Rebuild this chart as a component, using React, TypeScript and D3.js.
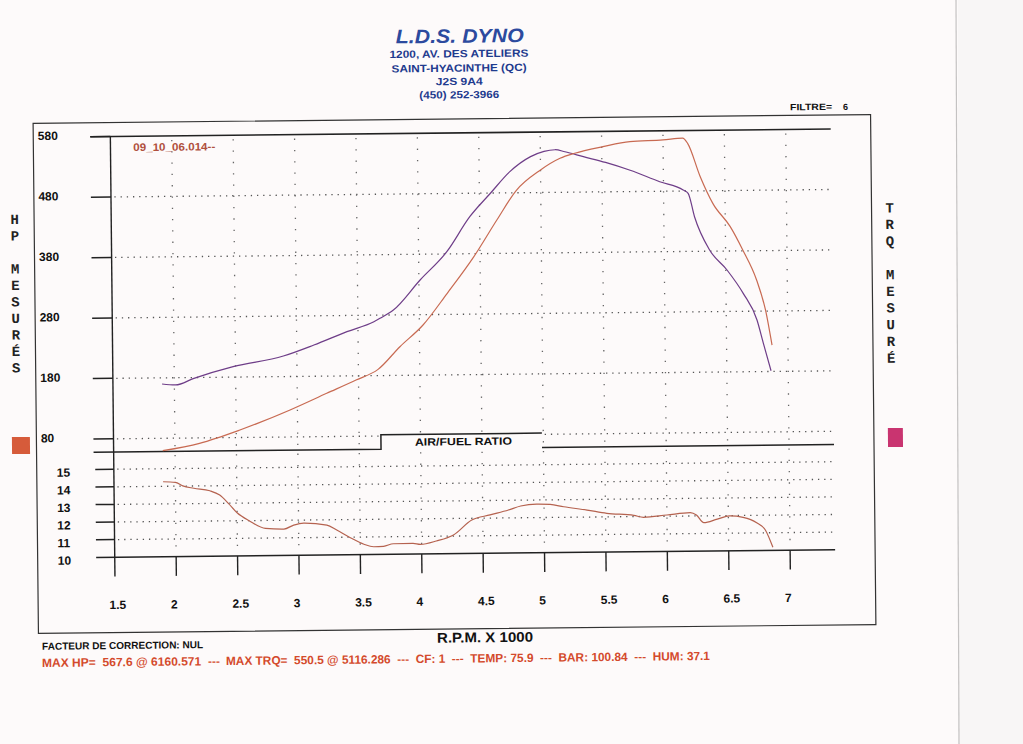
import React from 'react';
import * as d3 from 'd3';

// ---------- data ----------
const rpmTicks = [1.5, 2, 2.5, 3, 3.5, 4, 4.5, 5, 5.5, 6, 6.5, 7];
const rpmTickLabels = ['1.5', '2', '2.5', '3', '3.5', '4', '4.5', '5', '5.5', '6', '6.5', '7'];
const rpmGrid = [2, 2.5, 3, 3.5, 4, 4.5, 5, 5.5, 6, 6.5, 7];
const hpTicks = [580, 480, 380, 280, 180, 80];
const hpGrid = [480, 380, 280, 180, 80];
const afrTicks = [15, 14, 13, 12, 11, 10];
const afrGrid = [15, 14, 13, 12, 11];

const trqRpm = [1.90, 2.01, 2.16, 2.48, 2.89, 3.14, 3.41, 3.63, 3.68, 3.79, 4.01, 4.23, 4.42, 4.59, 4.75, 4.92, 5.03, 5.12, 5.20, 5.35, 5.53, 5.73, 5.97, 6.16, 6.20, 6.25, 6.37, 6.51, 6.64, 6.75, 6.80, 6.86];
const trqVal = [169.8, 168.0, 178.7, 197.3, 214.0, 231.7, 253.2, 269.2, 274.7, 288.2, 337.4, 383.7, 441.2, 479.6, 515.0, 539.5, 548.0, 550.5, 547.0, 538.5, 528.6, 515.2, 495.8, 481.8, 476.1, 437.3, 382.0, 348.6, 309.7, 265.4, 226.7, 181.2];

const hpRpm = [1.90, 2.20, 2.53, 2.94, 3.24, 3.48, 3.66, 3.84, 4.03, 4.23, 4.45, 4.64, 4.80, 5.00, 5.16, 5.28, 5.51, 5.73, 6.00, 6.16, 6.20, 6.30, 6.40, 6.54, 6.64, 6.75, 6.82, 6.87];
const hpVal = [59.5, 71.1, 92.4, 124.7, 151.6, 173.1, 190.3, 227.4, 262.9, 314.9, 375.1, 435.3, 483.7, 517.3, 536.2, 544.3, 554.7, 562.5, 564.8, 567.6, 558.8, 503.4, 459.1, 420.2, 381.4, 331.6, 281.8, 223.7];

const afrRpm = [1.90, 2.00, 2.06, 2.15, 2.28, 2.36, 2.43, 2.50, 2.60, 2.73, 2.88, 2.96, 3.04, 3.23, 3.31, 3.42, 3.53, 3.61, 3.69, 3.77, 3.93, 3.99, 4.12, 4.26, 4.41, 4.56, 4.71, 4.81, 4.94, 5.05, 5.16, 5.35, 5.51, 5.73, 5.81, 6.00, 6.19, 6.24, 6.30, 6.41, 6.51, 6.62, 6.73, 6.80, 6.86];
const afrVal = [14.26, 14.22, 14.01, 13.87, 13.72, 13.47, 12.99, 12.45, 11.98, 11.55, 11.50, 11.72, 11.83, 11.70, 11.41, 10.97, 10.59, 10.44, 10.46, 10.60, 10.61, 10.55, 10.73, 11.06, 11.90, 12.18, 12.45, 12.67, 12.77, 12.74, 12.60, 12.40, 12.20, 12.07, 11.95, 12.07, 12.19, 12.05, 11.61, 11.81, 11.98, 11.89, 11.58, 11.16, 10.17];

const headerTitle = 'L.D.S. DYNO';
const headerLines = ['1200, AV. DES ATELIERS', 'SAINT-HYACINTHE (QC)', 'J2S 9A4', '(450) 252-3966'];
const runLabel = '09_10_06.014--';
const leftTitle = 'HP MESURÉS';
const rightTitle = 'TRQ MESURÉ';
const xTitle = 'R.P.M. X 1000';
const afrTitle = 'AIR/FUEL RATIO';
const filterLabel = 'FILTRE=';
const filterValue = '6';
const footer1 = 'FACTEUR DE CORRECTION: NUL';
const footer2a = 'MAX HP=  567.6 @ 6160.571  ---';
const footer2b = 'MAX TRQ=  550.5 @ 5116.286  ---  CF: 1  ---  TEMP: 75.9  ---  BAR: 100.84  ---  HUM: 37.1';

const SANS = "'Liberation Sans', Arial, sans-serif";
const MONO = "'Liberation Mono', 'DejaVu Sans Mono', monospace";

export default function App() {
  const x = d3.scaleLinear().domain([2, 7]).range([174, 788]);
  const yHp = d3.scaleLinear().domain([80, 580]).range([435.3, 133]);
  const yAfr = d3.scaleLinear().domain([10, 15]).range([553.7, 465.7]);

  const topLine = d3
    .line<[number, number]>()
    .x((d) => x(d[0]))
    .y((d) => yHp(d[1]))
    .curve(d3.curveMonotoneX);
  const afrLine = d3
    .line<[number, number]>()
    .x((d) => x(d[0]))
    .y((d) => yAfr(d[1]))
    .curve(d3.curveMonotoneX);

  const trqPath = topLine(d3.zip(trqRpm, trqVal) as [number, number][]) || '';
  const hpPath = topLine(d3.zip(hpRpm, hpVal) as [number, number][]) || '';
  const afrPath = afrLine(d3.zip(afrRpm, afrVal) as [number, number][]) || '';

  const x0 = x(1.5);
  const xEnd = 833;
  const sepY = 448.5;
  const axisColor = '#222';
  const dotColor = '#555';

  return (
    <svg
      width={1023}
      height={744}
      viewBox="0 0 1023 744"
      style={{ position: 'fixed', left: 0, top: 0, background: '#fdfafa' }}
    >
      <rect x={0} y={0} width={1023} height={744} fill="#fdfafa" />
      <rect x={958} y={0} width={65} height={744} fill="#f8f6f6" />
      <line x1={956} y1={0} x2={959} y2={744} stroke="#c4c2c2" strokeWidth={1.2} />

      <g transform="rotate(-0.6 450 350)">
        {/* header */}
        <text x={463} y={42.8} textAnchor="middle" fontFamily={SANS} fontWeight="bold" fontStyle="italic"
          fontSize={19.5} fill="#2c4a9e" textLength={128} lengthAdjust="spacingAndGlyphs">{headerTitle}</text>
        {headerLines.map((t, i) => (
          <text key={t} x={462} y={[57.4, 71.8, 85.1, 98.4][i]} textAnchor="middle" fontFamily={SANS}
            fontWeight="bold" fontSize={10.5} fill="#1f3b8e" textLength={[139, 135, 47, 80][i]}
            lengthAdjust="spacingAndGlyphs">{t}</text>
        ))}
        <text x={792.5} y={113.8} fontFamily={SANS} fontWeight="bold" fontSize={9} fill="#111"
          textLength={42} lengthAdjust="spacingAndGlyphs">{filterLabel}</text>
        <text x={845.5} y={114.1} fontFamily={SANS} fontWeight="bold" fontSize={9} fill="#111">{filterValue}</text>

        {/* frame */}
        <rect x={35.5} y={119} width={837.5} height={510} fill="none" stroke="#333" strokeWidth={1.2} />

        {/* side titles */}
        {leftTitle.split('').map((c, i) =>
          c === ' ' ? null : (
            <text key={'l' + i} x={16} y={214.5 + i * 16.5 + 5} textAnchor="middle" fontFamily={MONO}
              fontWeight="bold" fontSize={14} fill="#222">{c}</text>
          )
        )}
        {rightTitle.split('').map((c, i) =>
          c === ' ' ? null : (
            <text key={'r' + i} x={891} y={212 + i * 16.7 + 5} textAnchor="middle" fontFamily={MONO}
              fontWeight="bold" fontSize={14} fill="#222">{c}</text>
          )
        )}
        <rect x={11} y={432.5} width={18} height={17} fill="#d65b3a" />
        <rect x={887} y={432.7} width={15} height={19} fill="#c93470" />

        {/* top panel grid */}
        {hpGrid.map((v) => (
          <line key={'hg' + v} x1={116} x2={xEnd} y1={yHp(v)} y2={yHp(v)} stroke={dotColor}
            strokeWidth={1.3} strokeDasharray="1.3 4.9" />
        ))}
        {rpmGrid.map((r) => (
          <line key={'vg' + r} x1={x(r)} x2={x(r)} y1={137} y2={446} stroke="#666"
            strokeWidth={1.3} strokeDasharray="1.3 10" />
        ))}
        {/* AFR panel grid */}
        {afrGrid.map((v) => (
          <line key={'ag' + v} x1={116} x2={xEnd} y1={yAfr(v)} y2={yAfr(v)} stroke={dotColor}
            strokeWidth={1.3} strokeDasharray="1.3 4.9" />
        ))}
        {rpmGrid.map((r) => (
          <line key={'avg' + r} x1={x(r)} x2={x(r)} y1={452} y2={552} stroke="#666"
            strokeWidth={1.3} strokeDasharray="1.3 10" />
        ))}

        {/* axes */}
        <line x1={92.5} x2={xEnd} y1={yHp(580)} y2={yHp(580)} stroke={axisColor} strokeWidth={1.6} />
        <line x1={x0} x2={x0} y1={yHp(580)} y2={sepY} stroke={axisColor} strokeWidth={1.4} />
        {hpTicks.map((v) => (
          <line key={'ht' + v} x1={92.5} x2={x0} y1={yHp(v)} y2={yHp(v)} stroke={axisColor} strokeWidth={1.5} />
        ))}
        {hpTicks.map((v) => (
          <text key={'hl' + v} x={40} y={yHp(v) + 2.8} fontFamily={SANS} fontWeight="bold" fontSize={12}
            fill="#111">{v}</text>
        ))}

        {/* separator + AFR label box */}
        <rect x={380} y={434} width={161} height={sepY - 434} fill="#fdfafa" />
        <path d={`M92.5,${sepY} H380 V434 H541`} fill="none" stroke={axisColor} strokeWidth={1.5} />
        <line x1={541} x2={xEnd} y1={sepY} y2={sepY} stroke={axisColor} strokeWidth={1.5} />
        <text x={414} y={445.3} fontFamily={SANS} fontWeight="bold" fontSize={10.5} fill="#111"
          textLength={97} lengthAdjust="spacingAndGlyphs">{afrTitle}</text>

        {/* AFR axes */}
        <line x1={x0} x2={x0} y1={sepY} y2={573} stroke={axisColor} strokeWidth={1.4} />
        <line x1={94} x2={xEnd} y1={yAfr(10)} y2={yAfr(10)} stroke={axisColor} strokeWidth={1.5} />
        {afrTicks.slice(0, 5).map((v) => (
          <line key={'at' + v} x1={94} x2={x0} y1={yAfr(v)} y2={yAfr(v)} stroke={axisColor} strokeWidth={1.5} />
        ))}
        {afrTicks.map((v) => (
          <text key={'al' + v} x={55.5} y={yAfr(v) + 7} fontFamily={SANS} fontWeight="bold" fontSize={12}
            fill="#111">{v}</text>
        ))}
        {rpmTicks.slice(1).map((r) => (
          <line key={'xt' + r} x1={x(r)} x2={x(r)} y1={yAfr(10)} y2={573} stroke={axisColor} strokeWidth={1.4} />
        ))}
        {rpmTicks.map((r, i) => (
          <text key={'xl' + r} x={x(r) - 5.7} y={605.5} fontFamily={SANS} fontWeight="bold" fontSize={12}
            fill="#111">{rpmTickLabels[i]}</text>
        ))}

        {/* curves */}
        <path d={trqPath} fill="none" stroke="#6e3d88" strokeWidth={1.2} />
        <path d={hpPath} fill="none" stroke="#c86a52" strokeWidth={1.2} />
        <path d={afrPath} fill="none" stroke="#b5624f" strokeWidth={1.2} />

        <text x={135.4} y={147.8} fontFamily={SANS} fontWeight="bold" fontSize={11} fill="#b0503e"
          textLength={82} lengthAdjust="spacingAndGlyphs">{runLabel}</text>

        {/* footer */}
        <text x={482} y={642.5} textAnchor="middle" fontFamily={SANS} fontWeight="bold" fontSize={14}
          fill="#111" textLength={96} lengthAdjust="spacingAndGlyphs">{xTitle}</text>
        <text x={39} y={645.5} fontFamily={SANS} fontWeight="bold" fontSize={10} fill="#111"
          textLength={161} lengthAdjust="spacingAndGlyphs">{footer1}</text>
        <text x={38.7} y={662.7} fontFamily={SANS} fontWeight="bold" fontSize={12} fill="#d44a2c"
          textLength={178} lengthAdjust="spacingAndGlyphs" xmlSpace="preserve">{footer2a}</text>
        <text x={222.7} y={662.7} fontFamily={SANS} fontWeight="bold" fontSize={12} fill="#d44a2c"
          textLength={484} lengthAdjust="spacingAndGlyphs" xmlSpace="preserve">{footer2b}</text>
      </g>
    </svg>
  );
}
